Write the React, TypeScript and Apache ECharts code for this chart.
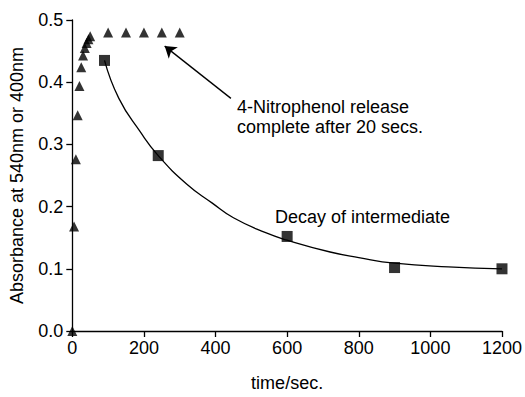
import React, { useEffect, useRef } from "react";
import * as echarts from "echarts";

const nitroTimes = [0, 5, 10, 15, 20, 25, 30, 35, 40, 45, 50, 100, 150, 200, 250, 300];
const nitroValues = [0, 0.168, 0.276, 0.347, 0.394, 0.424, 0.443, 0.455, 0.463, 0.469, 0.474, 0.48, 0.48, 0.48, 0.48, 0.48];

const interTimes = [90, 240, 600, 900, 1200];
const interValues = [0.435, 0.282, 0.152, 0.102, 0.1];

const fitTimes = [90, 130, 190, 240, 320, 390, 450, 540, 600, 720, 800, 900, 1050, 1200];
const fitValues = [0.435, 0.374, 0.32, 0.282, 0.236, 0.206, 0.182, 0.158, 0.146, 0.127, 0.118, 0.109, 0.103, 0.1];

const arrowFrom = [443, 0.374];
const arrowTo = [258, 0.458];

const xTitle = "time/sec.";
const yTitle = "Absorbance at 540nm or 400nm";
const note1 = ["4-Nitrophenol release", "complete after 20 secs."];
const note2 = "Decay of intermediate";

const FONT = "Liberation Sans, Arial, sans-serif";
const FS = 18;

export default function App() {
  const ref = useRef<HTMLDivElement>(null);
  useEffect(() => {
    if (!ref.current) return;
    const chart = echarts.init(ref.current, undefined, { renderer: "svg" });
    const zip = (a: number[], b: number[]) => a.map((t, i) => [t, b[i]]);
    chart.setOption({
      animation: false,
      backgroundColor: "#ffffff",
      textStyle: { fontFamily: FONT },
      grid: { left: 72.3, right: 21.7, top: 20, bottom: 60.3 },
      xAxis: {
        type: "value",
        min: 0,
        max: 1200,
        interval: 200,
        name: xTitle,
        nameLocation: "middle",
        nameGap: 43,
        nameTextStyle: { color: "#000", fontSize: FS, fontFamily: FONT },
        axisLine: { onZero: false, lineStyle: { color: "#000", width: 1.3 } },
        axisTick: { show: true, inside: false, length: 6, lineStyle: { color: "#000", width: 1.3 } },
        axisLabel: { color: "#000", fontSize: FS, fontFamily: FONT, margin: 8, formatter: (v: number) => String(v) },
        splitLine: { show: false },
      },
      yAxis: {
        type: "value",
        min: 0,
        max: 0.5,
        interval: 0.1,
        name: yTitle,
        nameLocation: "middle",
        nameGap: 46,
        nameRotate: 90,
        nameTextStyle: { color: "#000", fontSize: FS, fontFamily: FONT },
        axisLine: { onZero: false, lineStyle: { color: "#000", width: 1.3 } },
        axisTick: { show: true, inside: false, length: 6, lineStyle: { color: "#000", width: 1.3 } },
        axisLabel: {
          color: "#000",
          fontSize: FS,
          fontFamily: FONT,
          margin: 9,
          formatter: (v: number) => v.toFixed(1),
        },
        splitLine: { show: false },
      },
      series: [
        {
          type: "line",
          data: zip(fitTimes, fitValues),
          smooth: 0.5,
          showSymbol: false,
          symbol: "none",
          lineStyle: { color: "#000", width: 1.3 },
          z: 1,
          markLine: {
            silent: true,
            symbol: ["none", "arrow"],
            symbolSize: 11,
            label: { show: false },
            lineStyle: { color: "#000", width: 1.3, type: "solid" },
            data: [[{ coord: arrowFrom }, { coord: arrowTo }]],
          },
        },
        {
          type: "scatter",
          data: zip(nitroTimes, nitroValues),
          symbol: "triangle",
          symbolSize: 10,
          itemStyle: { color: "#000" },
          z: 3,
        },
        {
          type: "scatter",
          data: zip(interTimes, interValues),
          symbol: "rect",
          symbolSize: 11,
          itemStyle: { color: "#000" },
          z: 3,
        },
      ],
      graphic: [
        {
          type: "text",
          left: 237,
          top: 97,
          style: {
            text: note1.join("\n"),
            fill: "#000",
            fontSize: FS,
            fontFamily: FONT,
            lineHeight: 20,
          },
        },
        {
          type: "text",
          left: 275,
          top: 208,
          style: { text: note2, fill: "#000", fontSize: FS, fontFamily: FONT },
        },
      ],
    });
    return () => chart.dispose();
  }, []);
  return (
    <div
      ref={ref}
      style={{ position: "fixed", left: 0, top: 0, width: 525, height: 397, background: "#fff" }}
    />
  );
}
